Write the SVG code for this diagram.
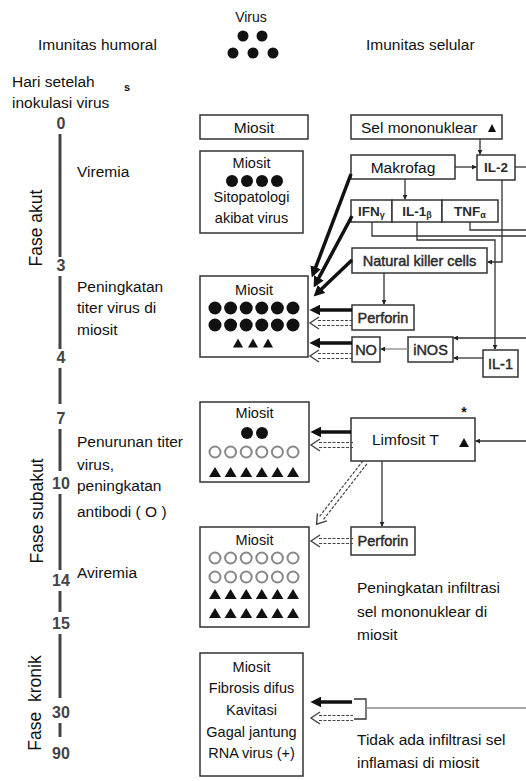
<svg xmlns="http://www.w3.org/2000/svg" width="526" height="781" viewBox="0 0 526 781">
<style>
text{font-family:"Liberation Sans",Arial,sans-serif;fill:#111}
.lbl{font-size:15.5px}
.box{fill:#fff;stroke:#333;stroke-width:1.5}
.mt{font-size:14.5px;text-anchor:middle}
.bt{font-size:15.5px;text-anchor:middle}
.hv{font-size:14.5px;fill:#2a2a2a;stroke:#2a2a2a;stroke-width:0.45;text-anchor:middle}
.hb{font-size:13.5px;font-weight:bold;fill:#2a2a2a;text-anchor:middle}
.num{font-size:16px;font-weight:bold;text-anchor:middle;fill:#444}
.ph{font-size:17.5px;text-anchor:middle}
.tl{stroke:#444;stroke-width:3}
.c{fill:none;stroke:#333;stroke-width:1.3}
.cg{fill:none;stroke:#888;stroke-width:1.3}
.thick{fill:none;stroke:#111;stroke-width:3.5}
.dd{fill:none;stroke:#444;stroke-width:1.2;stroke-dasharray:3 1.5}
.dot{fill:#111}
.oc{fill:#fff;stroke:#888;stroke-width:2}
.tri{fill:#111}
</style>
<defs>
<marker id="ah" viewBox="0 0 10 10" refX="4" refY="5" markerWidth="11" markerHeight="11" markerUnits="userSpaceOnUse" orient="auto"><path d="M0,0 L10,5 L0,10 Z" fill="#111"/></marker>
<marker id="dt" viewBox="0 0 6 6" refX="5" refY="3" markerWidth="5" markerHeight="5" markerUnits="userSpaceOnUse" orient="auto"><path d="M0,0 L6,3 L0,6 Z" fill="#222"/></marker>
<g id="dh"><path class="dd" d="M9,-2.5 H43 M9,2.5 H43"/><path d="M10,-6 L1,0 L10,6" fill="none" stroke="#444" stroke-width="1.4"/></g>
<path id="tr" d="M-6,5 L0,-5 L6,5 Z"/>
<path id="trs" d="M-5,4.5 L0,-4.5 L5,4.5 Z"/>
</defs>

<g id="header">
<text x="251" y="22" font-size="14" text-anchor="middle" fill="#333">Virus</text>
<circle class="dot" cx="243" cy="36" r="5.5"/><circle class="dot" cx="262" cy="36" r="5.5"/>
<circle class="dot" cx="233" cy="53" r="5.5"/><circle class="dot" cx="253" cy="53" r="5.5"/><circle class="dot" cx="273" cy="53" r="5.5"/>
<text class="lbl" x="38" y="50">Imunitas humoral</text>
<text class="lbl" x="366" y="50">Imunitas selular</text>
<text class="lbl" x="12" y="87">Hari setelah</text>
<text class="lbl" x="12" y="108">inokulasi virus</text>
<text x="124" y="91" font-size="11" font-weight="bold" fill="#555">s</text>
</g>

<g id="timeline">
<text class="num" x="61" y="129">0</text>
<line class="tl" x1="60" y1="134" x2="60" y2="257"/>
<text class="num" x="61" y="271">3</text>
<line class="tl" x1="60" y1="276" x2="60" y2="349"/>
<text class="num" x="61" y="363">4</text>
<line class="tl" x1="60" y1="368" x2="60" y2="404"/>
<text class="num" x="61" y="424">7</text>
<line class="tl" x1="60" y1="429" x2="60" y2="471"/>
<text class="num" x="61" y="489">10</text>
<line class="tl" x1="60" y1="494" x2="60" y2="570"/>
<text class="num" x="61" y="586">14</text>
<line class="tl" x1="60" y1="591" x2="60" y2="612"/>
<text class="num" x="61" y="629">15</text>
<line class="tl" x1="60" y1="634" x2="60" y2="698"/>
<text class="num" x="61" y="718">30</text>
<line class="tl" x1="60" y1="723" x2="60" y2="737"/>
<text class="num" x="61" y="759">90</text>
<text class="ph" transform="translate(42,228) rotate(-90)">Fase akut</text>
<text class="ph" transform="translate(43,511) rotate(-90)">Fase subakut</text>
<text class="ph" transform="translate(41,703) rotate(-90)" style="white-space:pre">Fase  kronik</text>
</g>

<g id="left-labels">
<text class="lbl" x="77" y="177">Viremia</text>
<text class="lbl" x="77" y="292">Peningkatan</text>
<text class="lbl" x="77" y="313">titer virus di</text>
<text class="lbl" x="77" y="335">miosit</text>
<text class="lbl" x="77" y="447">Penurunan titer</text>
<text class="lbl" x="77" y="470">virus,</text>
<text class="lbl" x="77" y="491">peningkatan</text>
<text class="lbl" x="77" y="517">antibodi ( O )</text>
<text class="lbl" x="77" y="578">Aviremia</text>
</g>

<g id="miosit1"><rect class="box" x="200" y="115" width="108" height="24"/><text class="bt" x="254" y="132.5">Miosit</text></g>

<g id="miosit2"><rect class="box" x="200" y="151" width="103" height="82"/>
<text class="mt" x="251.5" y="168">Miosit</text>
<circle class="dot" cx="232" cy="181" r="6"/><circle class="dot" cx="247" cy="181" r="6"/><circle class="dot" cx="262" cy="181" r="6"/><circle class="dot" cx="277" cy="181" r="6"/>
<text class="mt" x="251.5" y="202">Sitopatologi</text>
<text class="mt" x="251.5" y="223">akibat virus</text></g>

<g id="miosit3"><rect class="box" x="200" y="276" width="108" height="81"/>
<text class="mt" x="254" y="295">Miosit</text>
<g class="dot">
<circle cx="215" cy="308" r="6.5"/><circle cx="230.6" cy="308" r="6.5"/><circle cx="246.2" cy="308" r="6.5"/><circle cx="261.8" cy="308" r="6.5"/><circle cx="277.4" cy="308" r="6.5"/><circle cx="293" cy="308" r="6.5"/>
<circle cx="215" cy="325" r="6.5"/><circle cx="230.6" cy="325" r="6.5"/><circle cx="246.2" cy="325" r="6.5"/><circle cx="261.8" cy="325" r="6.5"/><circle cx="277.4" cy="325" r="6.5"/><circle cx="293" cy="325" r="6.5"/>
</g>
<g class="tri"><use href="#trs" x="238" y="343"/><use href="#trs" x="253" y="343"/><use href="#trs" x="268" y="343"/></g></g>

<g id="miosit4"><rect class="box" x="200" y="402" width="109" height="80"/>
<text class="mt" x="254.5" y="418">Miosit</text>
<circle class="dot" cx="247" cy="433" r="6"/><circle class="dot" cx="262" cy="433" r="6"/>
<g class="oc"><circle cx="215" cy="452" r="5.5"/><circle cx="230.6" cy="452" r="5.5"/><circle cx="246.2" cy="452" r="5.5"/><circle cx="261.8" cy="452" r="5.5"/><circle cx="277.4" cy="452" r="5.5"/><circle cx="293" cy="452" r="5.5"/></g>
<g class="tri"><use href="#tr" x="215" y="472"/><use href="#tr" x="230.6" y="472"/><use href="#tr" x="246.2" y="472"/><use href="#tr" x="261.8" y="472"/><use href="#tr" x="277.4" y="472"/><use href="#tr" x="293" y="472"/></g></g>

<g id="miosit5"><rect class="box" x="200" y="527" width="109" height="100"/>
<text class="mt" x="254.5" y="545">Miosit</text>
<g class="oc"><circle cx="215" cy="558" r="5.5"/><circle cx="230.6" cy="558" r="5.5"/><circle cx="246.2" cy="558" r="5.5"/><circle cx="261.8" cy="558" r="5.5"/><circle cx="277.4" cy="558" r="5.5"/><circle cx="293" cy="558" r="5.5"/>
<circle cx="215" cy="577" r="5.5"/><circle cx="230.6" cy="577" r="5.5"/><circle cx="246.2" cy="577" r="5.5"/><circle cx="261.8" cy="577" r="5.5"/><circle cx="277.4" cy="577" r="5.5"/><circle cx="293" cy="577" r="5.5"/></g>
<g class="tri"><use href="#tr" x="215" y="594"/><use href="#tr" x="230.6" y="594"/><use href="#tr" x="246.2" y="594"/><use href="#tr" x="261.8" y="594"/><use href="#tr" x="277.4" y="594"/><use href="#tr" x="293" y="594"/>
<use href="#tr" x="215" y="613"/><use href="#tr" x="230.6" y="613"/><use href="#tr" x="246.2" y="613"/><use href="#tr" x="261.8" y="613"/><use href="#tr" x="277.4" y="613"/><use href="#tr" x="293" y="613"/></g></g>

<g id="miosit6"><rect class="box" x="200" y="653" width="103" height="123"/>
<text class="mt" x="251.5" y="672">Miosit</text>
<text class="mt" x="251.5" y="693">Fibrosis difus</text>
<text class="mt" x="251.5" y="715">Kavitasi</text>
<text class="mt" x="251.5" y="737">Gagal jantung</text>
<text class="mt" x="251.5" y="758">RNA virus (+)</text></g>

<g id="sel-mononuklear"><rect class="box" x="351" y="115" width="151" height="24"/><text class="lbl" x="361" y="132.5">Sel mononuklear</text><path class="tri" d="M488,132 L492,124 L496,132 Z"/></g>
<g id="makrofag"><rect class="box" x="351" y="155" width="104" height="24"/><text class="bt" x="403" y="172.5">Makrofag</text></g>
<g id="il2"><rect class="box" x="477" y="155" width="38" height="25"/><text class="hb" x="496" y="172">IL-2</text></g>
<g id="ifng"><rect class="box" x="351" y="200" width="41" height="22"/><text class="hb" x="371.5" y="216">IFN<tspan font-size="9" dy="2">γ</tspan></text></g>
<g id="il1b"><rect class="box" x="392" y="200" width="50" height="22"/><text class="hb" x="417" y="216">IL-1<tspan font-size="9" dy="2">β</tspan></text></g>
<g id="tnfa"><rect class="box" x="442" y="200" width="56" height="22"/><text class="hb" x="470" y="216">TNF<tspan font-size="9" dy="2">α</tspan></text></g>
<g id="nk"><rect class="box" x="352" y="248" width="135" height="25"/><text class="hv" x="419.5" y="265.5" font-size="14">Natural killer cells</text></g>
<g id="perforin1"><rect class="box" x="352" y="305" width="62" height="25"/><text class="hv" x="383" y="322.5">Perforin</text></g>
<g id="no"><rect class="box" x="352" y="337" width="28" height="25"/><text class="hv" x="366" y="354.5">NO</text></g>
<g id="inos"><rect class="box" x="408" y="337" width="45" height="25"/><text class="hv" x="430.5" y="354.5">iNOS</text></g>
<g id="il1"><rect class="box" x="483" y="350" width="35" height="27"/><text class="hv" x="500.5" y="368.5">IL-1</text></g>
<g id="limfosit"><rect class="box" x="351" y="418" width="124" height="43"/><text class="lbl" x="372" y="444.5">Limfosit T</text><path class="tri" d="M459,447 L464,438 L469,447 Z"/><text x="464" y="417" font-size="14" font-weight="bold" text-anchor="middle" fill="#333">*</text></g>
<g id="perforin2"><rect class="box" x="351" y="527" width="64" height="28"/><text class="hv" x="383" y="546">Perforin</text></g>

<g id="notes">
<text class="lbl" x="357" y="593">Peningkatan infiltrasi</text>
<text class="lbl" x="357" y="617">sel mononuklear di</text>
<text class="lbl" x="357" y="640">miosit</text>
<text class="lbl" x="357" y="745">Tidak ada infiltrasi sel</text>
<text class="lbl" x="357" y="768">inflamasi di miosit</text>
</g>

<g id="connectors">
<path class="c" d="M480,139 V154" marker-end="url(#dt)"/>
<path class="c" d="M455,167 H476" marker-end="url(#dt)"/>
<path class="c" d="M515,167 H526"/>
<path class="c" d="M405,179 V199" marker-end="url(#dt)"/>
<path class="c" d="M502,180 V262 H488" marker-end="url(#dt)"/>
<path class="c" d="M372,222 V236 H526"/>
<path class="c" d="M417,222 V240 H495 V349" marker-end="url(#dt)"/>
<path class="c" d="M470,222 V230 H526"/>
<path class="c" d="M384,273 V304" marker-end="url(#dt)"/>
<path class="c" d="M526,338 H454" marker-end="url(#dt)"/>
<path class="c" d="M483,358 H454" marker-end="url(#dt)"/>
<path class="cg" d="M408,349 H381" marker-end="url(#dt)"/>
<path class="thick" d="M351,174 L314.1,271.4" marker-end="url(#ah)"/>
<path class="thick" d="M352,216 L316.8,281.7" marker-end="url(#ah)"/>
<path class="thick" d="M352,260 L318.4,291.9" marker-end="url(#ah)"/>
<path class="thick" d="M352,310 H316" marker-end="url(#ah)"/>
<use href="#dh" x="309" y="323"/>
<path class="thick" d="M352,343 H316" marker-end="url(#ah)"/>
<use href="#dh" x="309" y="356"/>
<path class="thick" d="M351,432 H317" marker-end="url(#ah)"/>
<use href="#dh" x="310" y="445"/>
<g transform="translate(316,525) rotate(-52)"><path class="dd" d="M9,-2.5 H80 M9,2.5 H80"/><path d="M10,-6 L1,0 L10,6" fill="none" stroke="#444" stroke-width="1.4"/></g>
<path class="c" d="M382,461 V526" marker-end="url(#dt)"/>
<path class="c" d="M526,441 H476" marker-end="url(#dt)"/>
<use href="#dh" x="310" y="541"/>
<path class="thick" d="M352,702 H317" marker-end="url(#ah)"/>
<use href="#dh" x="310" y="718"/>
<path class="c" d="M354,699 H366 V719 H354"/>
<path class="cg" d="M366,708 H526"/>
</g>
</svg>
